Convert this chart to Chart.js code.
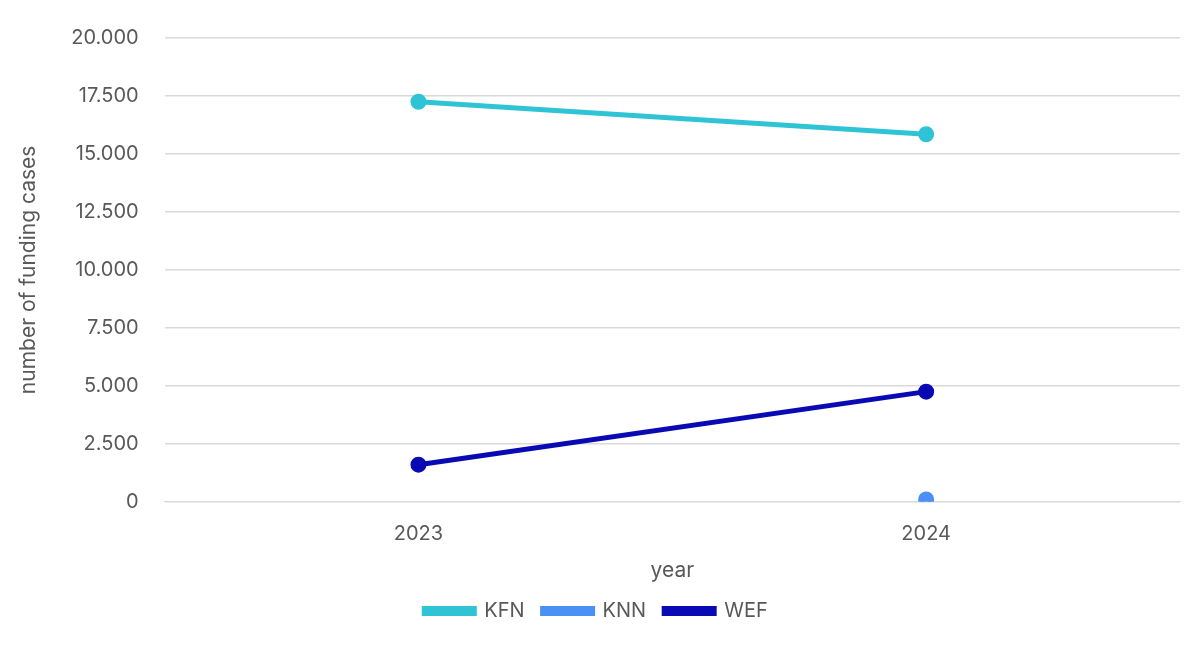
<!DOCTYPE html>
<html>
<head>
<meta charset="utf-8">
<script src="https://cdn.jsdelivr.net/npm/chart.js@4/dist/chart.umd.min.js"></script>
<style>
  html, body { margin: 0; padding: 0; background: #fff; }
  #wrap { width: 1200px; height: 645px; }
</style>
</head>
<body>
<div id="wrap"><canvas id="chart"></canvas></div>
<script>
// data
const years = ['2023', '2024'];
const kfn = [17250, 15850];
const knn = [null, 100];
const wef = [1600, 4750];

const ctx = document.getElementById('chart').getContext('2d');
new Chart(ctx, {
    type: 'line',
    data: {
        labels: years,
        datasets: [
            {label: 'KFN', data: kfn, borderColor: '#2ec4d6', backgroundColor: '#2ec4d6', borderWidth: 5, pointRadius: 5.5},
            {label: 'KNN', data: knn, borderColor: '#4a90f5', backgroundColor: '#4a90f5', borderWidth: 5, pointRadius: 5.5},
            {label: 'WEF', data: wef, borderColor: '#0a0ab4', backgroundColor: '#0a0ab4', borderWidth: 5, pointRadius: 5.5},
        ]
    },
    options: {
        responsive: true,
        maintainAspectRatio: false,
        animation: false,
        layout: {padding: {left: 12, right: 20, top: 2, bottom: 14}},
        plugins: {
            legend: {
                position: 'bottom',
                labels: {
                    color: '#595959',
                    font: {size: 20, family: 'Inter'},
                    boxWidth: 50,
                    boxHeight: 5,
                    padding: 18
                }
            },
            tooltip: {enabled: false}
        },
        scales: {
            x: {
                offset: true,
                grid: {display: false},
                border: {color: '#d9d9d9'},
                ticks: {color: '#595959', font: {size: 20, family: 'Inter'}, padding: 12},
                title: {display: true, text: 'year', color: '#595959', font: {size: 21, family: 'Inter'}, padding: 0}
            },
            y: {
                min: 0,
                max: 20000,
                grid: {color: '#d9d9d9', lineWidth: 1.5, drawTicks: false},
                border: {display: false},
                ticks: {
                    stepSize: 2500,
                    color: '#595959',
                    font: {size: 20, family: 'Inter'},
                    padding: 26,
                    callback: v => v.toLocaleString('de-DE')
                },
                title: {display: true, text: 'number of funding cases', color: '#595959', font: {size: 21, family: 'Inter'}}
            }
        }
    }
});
</script>
</body>
</html>
